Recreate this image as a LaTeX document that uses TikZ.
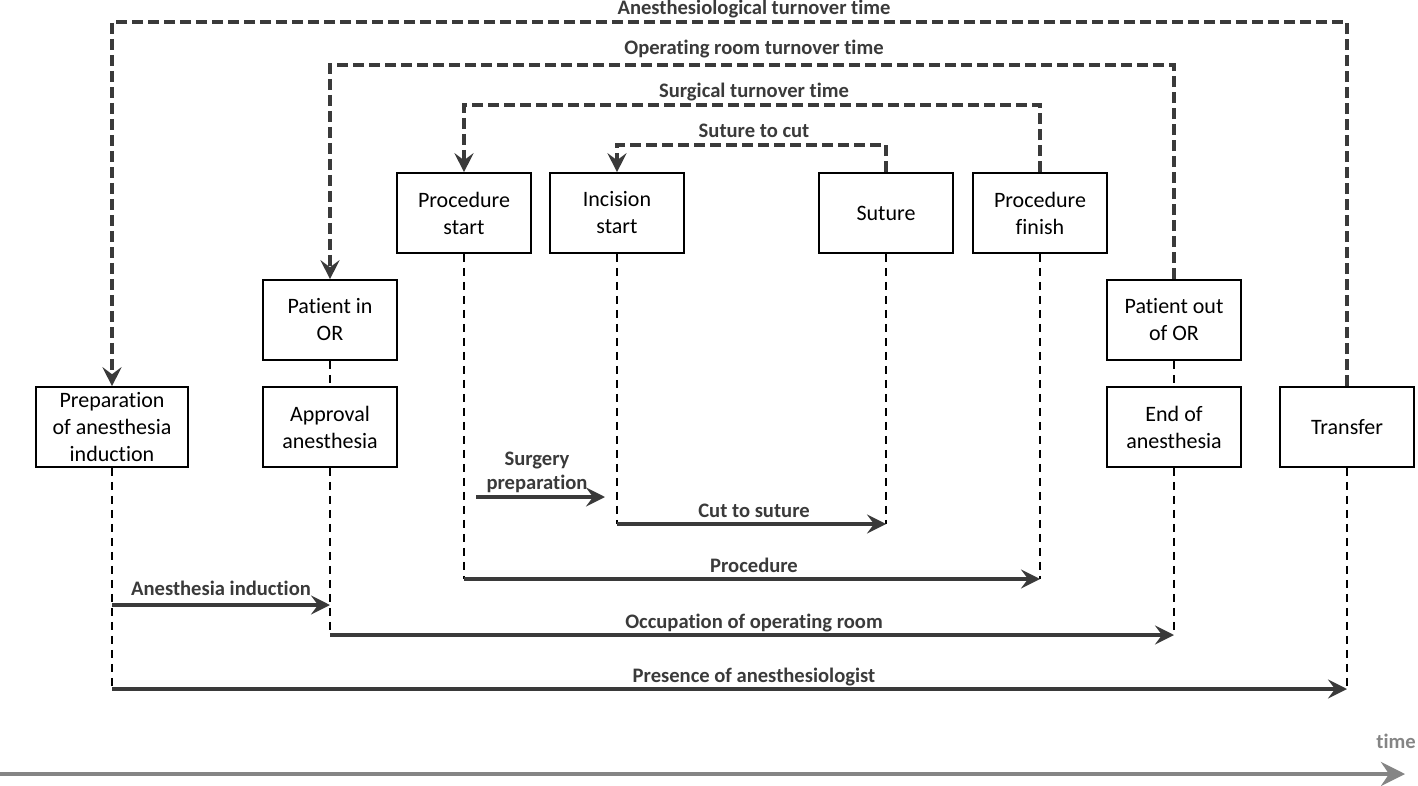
\documentclass[tikz,border=0pt]{standalone}
\usepackage{fontspec}
\setmainfont{Carlito}[Ligatures=NoCommon]
\usetikzlibrary{arrows.meta}

\definecolor{linegray}{HTML}{3A3A3A}
\definecolor{timegray}{HTML}{858585}

\begin{document}
\begin{tikzpicture}[x=0.5pt,y=-0.5pt]
  \tikzset{>={Stealth[length=9.5pt,width=9.5pt,inset=3.5pt]}}
  \tikzset{
    event/.style={draw, line width=0.8pt, minimum width=67pt, minimum height=40pt,
      align=center, inner xsep=2pt, inner ysep=1pt, font=\fontsize{11}{13.5}\selectfont},
    turnover/.style={draw=linegray, line width=1.6pt, dash pattern=on 5.5pt off 2.5pt, ->},
    guide/.style={draw=black, line width=0.8pt, dash pattern=on 4pt off 3pt},
    span/.style={draw=linegray, line width=1.7pt, ->},
    lbl/.style={anchor=base, yshift=3.5pt, inner sep=0pt, text=linegray,
      font=\fontsize{10.3}{12}\selectfont\bfseries}
  }
  % fix the page to the size of the reference
  \useasboundingbox (0,0) rectangle (1418,786);

  % events, left to right
  \node[event, minimum width=76pt] (prep) at (112,427) {Preparation\\of anesthesia\\induction};
  \node[event] (patin) at (330,320) {Patient in\\OR};
  \node[event] (approval) at (330,427) {Approval\\anesthesia};
  \node[event] (procstart) at (464,213) {Procedure\\start};
  \node[event] (incision) at (617,213) {Incision\\start};
  \node[event] (suture) at (886,213) {Suture};
  \node[event] (procfinish) at (1040,213) {Procedure\\finish};
  \node[event] (patout) at (1174,320) {Patient out\\of OR};
  \node[event] (endanest) at (1174,427) {End of\\anesthesia};
  \node[event] (transfer) at (1347,427) {Transfer};

  % levels of the lines, labels are centred on one column
  \coordinate (mid) at (754,0);
  \coordinate (yAnest) at (0,22);
  \coordinate (yRoom) at (0,65);
  \coordinate (ySurg) at (0,105);
  \coordinate (ySut) at (0,145);
  \coordinate (yPrep) at (0,497);
  \coordinate (yCut) at (0,524);
  \coordinate (yProc) at (0,579);
  \coordinate (yInd) at (0,605);
  \coordinate (yOcc) at (0,635);
  \coordinate (yPres) at (0,689);

  % turnover times (dashed, going back in time)
  \draw[turnover] (transfer.north) -- (transfer.north |- yAnest)
    -- (prep.north |- yAnest) -- (prep.north);
  \node[lbl] (tAnest) at (mid |- yAnest) {Anesthesiological turnover time};
  \draw[turnover] (patout.north) -- (patout.north |- yRoom)
    -- (patin.north |- yRoom) -- (patin.north);
  \node[lbl, yshift=1.5pt] (tRoom) at (mid |- yRoom) {Operating room turnover time};
  \draw[turnover] (procfinish.north) -- (procfinish.north |- ySurg)
    -- (procstart.north |- ySurg) -- (procstart.north);
  \node[lbl] (tSurg) at (mid |- ySurg) {Surgical turnover time};
  \draw[turnover] (suture.north) -- (suture.north |- ySut)
    -- (incision.north |- ySut) -- (incision.north);
  \node[lbl] (tSut) at (mid |- ySut) {Suture to cut};

  % guide lines down from the events
  \draw[guide] (prep.south) -- (prep.south |- yPres);
  \draw[guide] (transfer.south) -- (transfer.south |- yPres);
  \draw[guide] (patin.south) -- (approval.north);
  \draw[guide] (approval.south) -- (approval.south |- yOcc);
  \draw[guide] (patout.south) -- (endanest.north);
  \draw[guide] (endanest.south) -- (endanest.south |- yOcc);
  \draw[guide] (procstart.south) -- (procstart.south |- yProc);
  \draw[guide] (procfinish.south) -- (procfinish.south |- yProc);
  \draw[guide] (incision.south) -- (incision.south |- yCut);
  \draw[guide] (suture.south) -- (suture.south |- yCut);

  % durations
  \draw[span, shorten <=6pt, shorten >=6pt] (procstart.south |- yPrep) -- (incision.south |- yPrep);
  \node[lbl, anchor=center, yshift=0pt, align=center] (tPrep) at (537,479) {Surgery\\preparation};
  \draw[span] (incision.south |- yCut) -- (suture.south |- yCut);
  \node[lbl] (tCut) at (mid |- yCut) {Cut to suture};
  \draw[span] (procstart.south |- yProc) -- (procfinish.south |- yProc);
  \node[lbl] (tProc) at (mid |- yProc) {Procedure};
  \draw[span] (prep.south |- yInd) -- node[lbl, yshift=1.5pt] (tInd) {Anesthesia induction} (approval.south |- yInd);
  \draw[span] (approval.south |- yOcc) -- (endanest.south |- yOcc);
  \node[lbl] (tOcc) at (mid |- yOcc) {Occupation of operating room};
  \draw[span] (prep.south |- yPres) -- (transfer.south |- yPres);
  \node[lbl] (tPres) at (mid |- yPres) {Presence of anesthesiologist};

  % time axis
  \coordinate (t0) at (0,774);
  \coordinate (t1) at (1405,774);
  \draw[timegray, line width=2pt, -{Stealth[length=12pt,width=12pt,inset=4pt]}] (t0) -- (t1);
  \node[lbl, anchor=center, yshift=0pt, text=timegray] (tTime) at (1396,748) {time};
\end{tikzpicture}
\end{document}
